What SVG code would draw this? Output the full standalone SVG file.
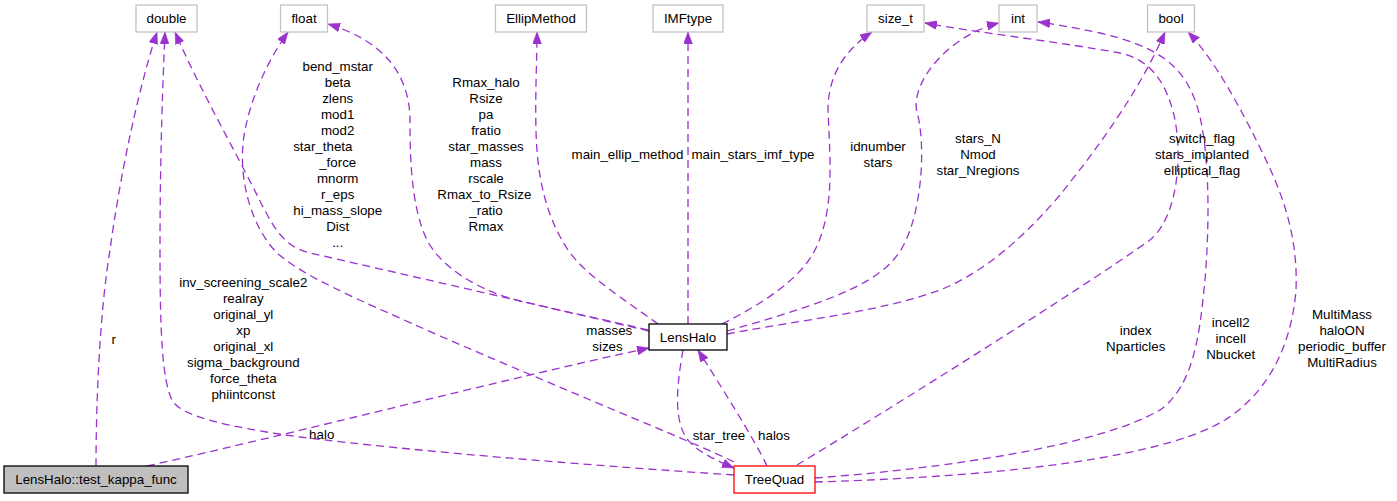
<svg xmlns="http://www.w3.org/2000/svg" width="1397" height="501" viewBox="0 0 1397 501">
<style>
text{font-family:"Liberation Sans",Arial,Helvetica,sans-serif;font-size:13.33px;fill:#000}
.n text{text-anchor:middle}
.lbl{text-anchor:middle}
.box{fill:#fff;stroke:#bfbfbf;stroke-width:1.2}
.e{fill:none;stroke:#9a32cd;stroke-width:1.3;stroke-dasharray:8,5;marker-end:url(#ah)}
</style>
<defs>
<marker id="ah" viewBox="0 0 12 9" refX="12" refY="4.5" markerWidth="12" markerHeight="9" markerUnits="userSpaceOnUse" orient="auto">
<path d="M0,0 L12,4.5 L0,9 z" fill="#9a32cd" stroke="#9a32cd" stroke-width="0.5"/>
</marker>
</defs>
<rect width="1397" height="501" fill="#fff"/>
<g id="connectors">
<path class="e" d="M96,466 C96,400 100,310 110,250 C118,190 135,100 157,32"/>
<path class="e" d="M734,475 C600,466 420,452 300,437 C220,426 180,415 172,400 C162,380 160,330 160,250 C160,150 163,80 165,32"/>
<path class="e" d="M649,331 C560,310 420,278 310,253 C285,247 275,230 262,205 C235,150 200,90 175,32"/>
<path class="e" d="M734,462 C700,445 600,405 440,336 C360,300 290,272 270,245 C245,212 238,165 245,130 C252,95 268,60 288,32"/>
<path class="e" d="M648,330 C590,316 530,305 500,295 C470,284 440,265 427,240 C410,205 410,150 410,117 C408,70 380,40 328,24"/>
<path class="e" d="M658,324 C625,300 585,275 568,250 C545,215 537,175 536,130 C535,95 537,60 537,32"/>
<path class="e" d="M688,324 L688,32"/>
<path class="e" d="M722,324 C760,305 800,280 815,250 C835,210 830,160 828,110 C828,75 845,50 872,32"/>
<path class="e" d="M727,331 C800,310 870,290 895,258 C920,230 928,150 916.5,110 C912,80 950,35 999,23"/>
<path class="e" d="M727,334 C800,320 880,312 940,290 C990,270 1030,230 1060,195 C1100,145 1140,90 1165,32"/>
<path class="e" d="M797,465 C880,415 1080,290 1150,240 C1180,215 1182,150 1174,115 C1165,80 1150,60 1120,53 C1060,42 980,33 925,23"/>
<path class="e" d="M815,478 C950,468 1100,445 1160,410 C1195,385 1200,330 1205,280 C1210,220 1210,140 1195,100 C1180,60 1150,45 1100,33 C1075,28 1055,24 1038,22"/>
<path class="e" d="M815,482 C950,478 1150,465 1225,420 C1272,390 1292,340 1296,290 C1298,240 1285,200 1266,160 C1243,112 1215,60 1188,32"/>
<path class="e" d="M147,466 C300,432 500,380 649,348"/>
<path class="e" d="M683,350 C676,390 672,430 695,447 C705,455 720,462 734,468"/>
<path class="e" d="M767,466 C755,440 720,385 698,350"/>
</g>
<g id="labels">
<text class="lbl"><tspan x="337.7" y="71.4">bend_mstar</tspan><tspan x="337.7" dy="16">beta</tspan><tspan x="337.7" dy="16">zlens</tspan><tspan x="337.7" dy="16">mod1</tspan><tspan x="337.7" dy="16">mod2</tspan><tspan x="322.8" dy="16">star_theta</tspan><tspan x="337.7" dy="16">_force</tspan><tspan x="337.7" dy="16">mnorm</tspan><tspan x="337.7" dy="16">r_eps</tspan><tspan x="337.7" dy="16">hi_mass_slope</tspan><tspan x="337.7" dy="16">Dist</tspan><tspan x="337.7" dy="16">...</tspan></text>
<text class="lbl"><tspan x="486" y="87.4">Rmax_halo</tspan><tspan x="486" dy="16">Rsize</tspan><tspan x="486" dy="16">pa</tspan><tspan x="486" dy="16">fratio</tspan><tspan x="486" dy="16">star_masses</tspan><tspan x="486" dy="16">mass</tspan><tspan x="486" dy="16">rscale</tspan><tspan x="484.3" dy="16">Rmax_to_Rsize</tspan><tspan x="486" dy="16">_ratio</tspan><tspan x="486" dy="16">Rmax</tspan></text>
<text class="lbl" x="627.5" y="159">main_ellip_method</text>
<text class="lbl" x="753" y="159">main_stars_imf_type</text>
<text class="lbl"><tspan x="878" y="151.4">idnumber</tspan><tspan x="878" dy="16">stars</tspan></text>
<text class="lbl"><tspan x="978" y="143.4">stars_N</tspan><tspan x="978" dy="16">Nmod</tspan><tspan x="978" dy="16">star_Nregions</tspan></text>
<text class="lbl"><tspan x="1202" y="143.4">switch_flag</tspan><tspan x="1202" dy="16">stars_implanted</tspan><tspan x="1202" dy="16">elliptical_flag</tspan></text>
<text class="lbl"><tspan x="243.3" y="287.4">inv_screening_scale2</tspan><tspan x="243.3" dy="16">realray</tspan><tspan x="243.3" dy="16">original_yl</tspan><tspan x="243.3" dy="16">xp</tspan><tspan x="243.3" dy="16">original_xl</tspan><tspan x="243.3" dy="16">sigma_background</tspan><tspan x="243.3" dy="16">force_theta</tspan><tspan x="243.3" dy="16">phiintconst</tspan></text>
<text class="lbl" x="113.7" y="343.7">r</text>
<text class="lbl" x="321.7" y="439">halo</text>
<text class="lbl"><tspan x="609.3" y="335.4">masses</tspan><tspan x="607.5" dy="16">sizes</tspan></text>
<text class="lbl" x="719" y="439.5">star_tree</text>
<text class="lbl" x="774" y="439.5">halos</text>
<text class="lbl"><tspan x="1135.7" y="335">index</tspan><tspan x="1135.7" dy="16">Nparticles</tspan></text>
<text class="lbl"><tspan x="1230.7" y="327">incell2</tspan><tspan x="1230.7" dy="16">incell</tspan><tspan x="1230.7" dy="16">Nbucket</tspan></text>
<text class="lbl"><tspan x="1342" y="319">MultiMass</tspan><tspan x="1342" dy="16">haloON</tspan><tspan x="1342" dy="16">periodic_buffer</tspan><tspan x="1342" dy="16">MultiRadius</tspan></text>
</g>
<g id="node-double" class="n"><rect class="box" x="136" y="5" width="61" height="27"/><text x="166.5" y="23.2">double</text></g>
<g id="node-float" class="n"><rect class="box" x="280.5" y="5" width="47" height="27"/><text x="304" y="23.2">float</text></g>
<g id="node-EllipMethod" class="n"><rect class="box" x="495.5" y="5" width="91" height="27"/><text x="541" y="23.2">EllipMethod</text></g>
<g id="node-IMFtype" class="n"><rect class="box" x="653" y="5" width="70" height="27"/><text x="688" y="23.2">IMFtype</text></g>
<g id="node-size_t" class="n"><rect class="box" x="867" y="5" width="57" height="27"/><text x="895.5" y="23.2">size_t</text></g>
<g id="node-int" class="n"><rect class="box" x="999" y="5" width="38" height="27"/><text x="1018" y="23.2">int</text></g>
<g id="node-bool" class="n"><rect class="box" x="1147.5" y="5" width="47" height="27"/><text x="1171" y="23.2">bool</text></g>
<g id="node-LensHalo" class="n"><rect x="649" y="324" width="78" height="26" fill="#fff" stroke="#000" stroke-width="1.3"/><text x="688" y="341.7">LensHalo</text></g>
<g id="node-TreeQuad" class="n"><rect x="734" y="466" width="81" height="27" fill="#fff" stroke="#ff0000" stroke-width="1.3"/><text x="774.5" y="484.2">TreeQuad</text></g>
<g id="node-test_kappa_func" class="n"><rect x="4" y="466" width="184" height="27" fill="#bfbfbf" stroke="#000" stroke-width="1.3"/><text x="96" y="484.2">LensHalo::test_kappa_func</text></g>
</svg>
